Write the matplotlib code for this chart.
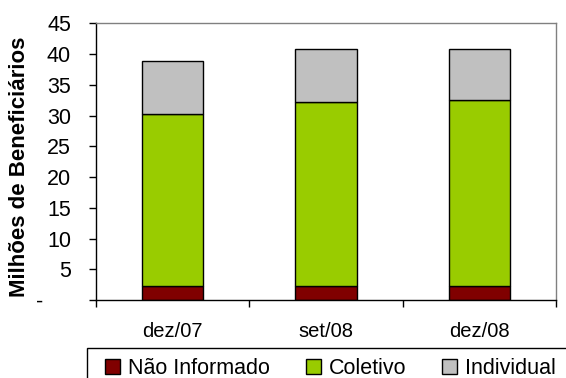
import matplotlib
matplotlib.use("Agg")
import matplotlib.pyplot as plt
from matplotlib.patches import Rectangle

# Data (millions of beneficiaries)
periods = ["dez/07", "set/08", "dez/08"]
nao_informado = [2.2, 2.2, 2.2]
coletivo = [28.1, 30.0, 30.3]
individual = [8.6, 8.7, 8.4]
series_names = ["Não Informado", "Coletivo", "Individual"]
colors = ["#800000", "#99CC00", "#C0C0C0"]
yticks = [0, 5, 10, 15, 20, 25, 30, 35, 40, 45]

plt.rcParams["font.family"] = ["Liberation Sans", "DejaVu Sans"]

fig = plt.figure(figsize=(5.66, 3.78), dpi=100)
ax = fig.add_axes([96 / 566, 1 - 300 / 378, 460 / 566, 276.7 / 378])

x = [1, 2, 3]
bottom = [0, 0, 0]
for vals, name, c in zip([nao_informado, coletivo, individual], series_names, colors):
    ax.bar(x, vals, width=0.4, bottom=bottom, color=c, edgecolor="black",
           linewidth=1, label=name)
    bottom = [b + v for b, v in zip(bottom, vals)]

ax.set_xlim(0.5, 3.5)
ax.set_ylim(0, 45)

# category boundaries carry the tick marks, labels sit in the middle
ax.set_xticks([0.5, 1.5, 2.5, 3.5])
ax.set_xticklabels([])
ax.set_xticks(x, minor=True)
ax.set_xticklabels(periods, minor=True, fontsize=14.5)
ax.tick_params(axis="x", which="major", direction="out", length=5, width=1)
ax.tick_params(axis="x", which="minor", length=0, pad=16)

ax.set_yticks(yticks)
ax.set_yticklabels(["-"] + [str(v) for v in yticks[1:]], fontsize=15.5)
ax.tick_params(axis="y", direction="out", length=5, width=1, pad=13)
ax.get_yticklabels()[0].set_x(-0.06)

ax.set_ylabel("Milhões de Beneficiários", fontsize=16, fontweight="bold")
ax.yaxis.set_label_coords(-0.143, 0.48)

for side in ["top", "right"]:
    ax.spines[side].set_color("#808080")
    ax.spines[side].set_linewidth(1)
for side in ["left", "bottom"]:
    ax.spines[side].set_color("black")
    ax.spines[side].set_linewidth(1)

# legend frame runs off the figure edge, as in the original
fig.patches.append(Rectangle((87 / 566, -0.05), 0.9, 0.05 + 30 / 378,
                             transform=fig.transFigure, fill=False,
                             edgecolor="black", linewidth=1))
fig.legend(loc="upper left", bbox_to_anchor=(105 / 566, 1 - 358 / 378),
           ncol=3, frameon=False, fontsize=15.5, handlelength=0.7,
           handleheight=0.7, handletextpad=0.37, columnspacing=1.67,
           borderaxespad=0, borderpad=0)

fig.savefig("out.png", dpi=100)
